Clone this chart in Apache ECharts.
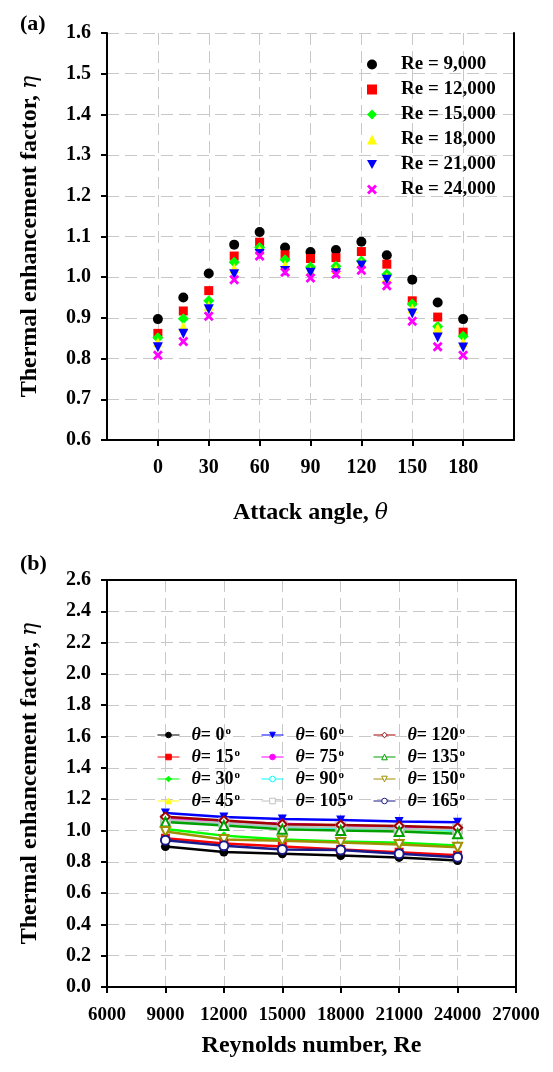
<!DOCTYPE html>
<html><head><meta charset="utf-8">
<script src="https://cdn.jsdelivr.net/npm/echarts@6/dist/echarts.min.js"></script>
<style>html,body{margin:0;padding:0;background:#fff}#c{width:553px;height:1072px}</style>
</head><body><div id="c"></div>
<script>
// ---- data ----
const angles = [0, 15, 30, 45, 60, 75, 90, 105, 120, 135, 150, 165, 180];
const reynolds = [9000, 12000, 15000, 18000, 21000, 24000];
const reLabels = ['Re = 9,000', 'Re = 12,000', 'Re = 15,000', 'Re = 18,000', 'Re = 21,000', 'Re = 24,000'];
const eta9000  = [0.897, 0.950, 1.009, 1.080, 1.111, 1.073, 1.062, 1.067, 1.087, 1.054, 0.994, 0.938, 0.897];
const eta12000 = [0.862, 0.917, 0.967, 1.052, 1.086, 1.055, 1.046, 1.048, 1.063, 1.032, 0.942, 0.902, 0.865];
const eta15000 = [0.851, 0.898, 0.942, 1.037, 1.073, 1.043, 1.025, 1.027, 1.040, 1.007, 0.934, 0.879, 0.855];
const eta18000 = [0.840, 0.879, 0.930, 1.022, 1.067, 1.030, 1.015, 1.020, 1.035, 1.000, 0.923, 0.875, 0.840];
const eta21000 = [0.828, 0.861, 0.921, 1.007, 1.057, 1.015, 1.011, 1.010, 1.029, 0.994, 0.911, 0.852, 0.827];
const eta24000 = [0.808, 0.842, 0.904, 0.994, 1.052, 1.012, 0.998, 1.007, 1.017, 0.979, 0.892, 0.829, 0.808];
const bottomAngles = [0, 15, 30, 45, 60, 75, 90, 105, 120, 135, 150, 165];

const etaByRe = [eta9000, eta12000, eta15000, eta18000, eta21000, eta24000];
const FONT = 'Liberation Serif';
const xPath = 'path://M2,0 L5,3 L8,0 L10,2 L7,5 L10,8 L8,10 L5,7 L2,10 L0,8 L3,5 L0,2 Z';
const downTri = 'path://M0,0 L10,0 L5,9 Z';

const topStyles = [
  {color: '#000000', symbol: 'circle', size: 10},
  {color: '#ff0000', symbol: 'rect', size: 9},
  {color: '#00ff00', symbol: 'diamond', size: 11},
  {color: '#ffff00', symbol: 'triangle', size: 10},
  {color: '#0000ff', symbol: downTri, size: 10},
  {color: '#ff00ff', symbol: xPath, size: 10}
];
const botStyles = [
  {color: '#000000', symbol: 'circle', empty: false},
  {color: '#ff0000', symbol: 'rect', empty: false},
  {color: '#00ff00', symbol: 'diamond', empty: false},
  {color: '#ffff00', symbol: 'triangle', empty: false},
  {color: '#0000ff', symbol: downTri, empty: false},
  {color: '#ff00ff', symbol: 'circle', empty: false},
  {color: '#00ffff', symbol: 'circle', empty: true},
  {color: '#c0c0c0', symbol: 'rect', empty: true},
  {color: '#a00000', symbol: 'diamond', empty: true},
  {color: '#00a000', symbol: 'triangle', empty: true},
  {color: '#a09000', symbol: downTri, empty: true},
  {color: '#1a1a8c', symbol: 'circle', empty: true}
];

const gridLine = {show: true, lineStyle: {color: '#c8c8c8', type: [12, 6], width: 1}};
const axisLineBlack = {show: true, onZero: false, lineStyle: {color: '#000', width: 2}};
const tickStyle = {show: true, inside: false, length: 6, lineStyle: {color: '#000', width: 2}};
const labelStyle = {fontFamily: FONT, fontWeight: 'bold', fontSize: 20, color: '#000'};
const borderAxisX = {type: 'value', position: 'top', axisLine: {show: true, onZero: false, lineStyle: {color: '#000', width: 2}},
  axisTick: {show: false}, axisLabel: {show: false}, splitLine: {show: false}};
const borderAxisY = {type: 'value', position: 'right', axisLine: {show: true, onZero: false, lineStyle: {color: '#000', width: 2}},
  axisTick: {show: false}, axisLabel: {show: false}, splitLine: {show: false}};

const topSeries = reLabels.map((name, k) => ({
  name: name, type: 'scatter', xAxisIndex: 0, yAxisIndex: 0,
  symbol: topStyles[k].symbol, symbolSize: topStyles[k].size,
  itemStyle: {color: topStyles[k].color, opacity: 1},
  data: angles.map((a, i) => [a, etaByRe[k][i]])
}));

const thetaNames = bottomAngles.map(a => 'θ = ' + a + '°');
const botSeries = bottomAngles.map((a, i) => {
  const st = botStyles[i];
  return {
    name: thetaNames[i], type: 'line', xAxisIndex: 1, yAxisIndex: 2,
    symbol: st.symbol, symbolSize: 9, showAllSymbol: true,
    lineStyle: {color: st.color, width: 2.5},
    itemStyle: {color: st.empty ? '#ffffff' : st.color, borderColor: st.color, borderWidth: st.empty ? 2 : 0},
    data: reynolds.map((r, j) => [r, etaByRe[j][i]])
  };
});

const legendRich = {
  t: {fontFamily: FONT, fontStyle: 'italic', fontWeight: 'bold', fontSize: 18, color: '#000'},
  e: {fontFamily: FONT, fontWeight: 'bold', fontSize: 18, color: '#000'},
  s: {fontFamily: FONT, fontWeight: 'bold', fontSize: 11, color: '#000', verticalAlign: 'top', padding: [0, 0, 0, 1]}
};
function thetaFmt(name) {
  const a = name.match(/\d+/)[0];
  return '{t|θ}{e|= ' + a + '}{s|o}';
}
function botLegend(left, names) {
  return {
    orient: 'vertical', left: left, top: 721, itemGap: 4, itemWidth: 22, itemHeight: 7,
    data: names, formatter: thetaFmt, selectedMode: false,
    textStyle: {rich: legendRich, padding: [0, 0, 0, 7]},
    lineStyle: {width: 1}, itemStyle: {borderWidth: 1}
  };
}
const nameRich = {
  a: {fontFamily: FONT, fontWeight: 'bold', fontSize: 24, color: '#000'},
  b: {fontFamily: 'DejaVu Serif', fontStyle: 'italic', fontSize: 22, color: '#000'}
};

const option = {
  animation: false,
  backgroundColor: '#fff',
  title: [
    {text: '(a)', left: 15, top: 8, textStyle: {fontFamily: FONT, fontWeight: 'bold', fontSize: 22, color: '#000'}},
    {text: '(b)', left: 15, top: 548, textStyle: {fontFamily: FONT, fontWeight: 'bold', fontSize: 22, color: '#000'}}
  ],
  grid: [
    {left: 107, right: 39, top: 33, height: 407},
    {left: 107, right: 37, top: 580, height: 407}
  ],
  legend: [
    {
      orient: 'vertical', left: 362, top: 50, itemGap: 6, itemWidth: 10, itemHeight: 10,
      data: reLabels, selectedMode: false,
      textStyle: {fontFamily: FONT, fontWeight: 'bold', fontSize: 19, color: '#000', padding: [0, 0, 0, 19]}
    },
    botLegend(152, thetaNames.slice(0, 4)),
    botLegend(256, thetaNames.slice(4, 8)),
    botLegend(368, thetaNames.slice(8, 12))
  ],
  xAxis: [
    {
      gridIndex: 0, type: 'value', min: -30, max: 210, interval: 30,
      axisLine: axisLineBlack, axisTick: tickStyle, splitLine: gridLine,
      axisLabel: Object.assign({margin: 18, showMinLabel: false, showMaxLabel: false}, labelStyle),
      name: '{a|Attack angle, }{b|θ}', nameLocation: 'middle', nameGap: 61,
      nameTextStyle: {rich: nameRich}
    },
    {
      gridIndex: 1, type: 'value', min: 6000, max: 27000, interval: 3000,
      axisLine: axisLineBlack, axisTick: tickStyle, splitLine: gridLine,
      axisLabel: Object.assign({}, labelStyle, {margin: 19, fontSize: 19, formatter: v => String(v)}),
      name: 'Reynolds number, Re', nameLocation: 'middle', nameGap: 47,
      nameTextStyle: {fontFamily: FONT, fontWeight: 'bold', fontSize: 24, color: '#000'}
    },
    Object.assign({gridIndex: 1, min: 6000, max: 27000}, borderAxisX)
  ],
  yAxis: [
    {
      gridIndex: 0, type: 'value', min: 0.6, max: 1.6, interval: 0.1,
      axisLine: axisLineBlack, axisTick: tickStyle, splitLine: gridLine,
      axisLabel: Object.assign({margin: 16, formatter: v => v.toFixed(1)}, labelStyle),
      name: '{a|Thermal enhancement factor, }{b|η}', nameLocation: 'middle', nameGap: 65,
      nameTextStyle: {rich: nameRich}
    },
    Object.assign({gridIndex: 0, min: 0.6, max: 1.6}, borderAxisY),
    {
      gridIndex: 1, type: 'value', min: 0, max: 2.6, interval: 0.2,
      axisLine: axisLineBlack, axisTick: tickStyle, splitLine: gridLine,
      axisLabel: Object.assign({margin: 16, formatter: v => v.toFixed(1)}, labelStyle),
      name: '{a|Thermal enhancement factor, }{b|η}', nameLocation: 'middle', nameGap: 65,
      nameTextStyle: {rich: nameRich}
    },
    Object.assign({gridIndex: 1, min: 0, max: 2.6}, borderAxisY)
  ],
  series: topSeries.concat(botSeries)
};
echarts.init(document.getElementById('c'), null, {renderer: 'canvas'}).setOption(option);
</script>
</body></html>
